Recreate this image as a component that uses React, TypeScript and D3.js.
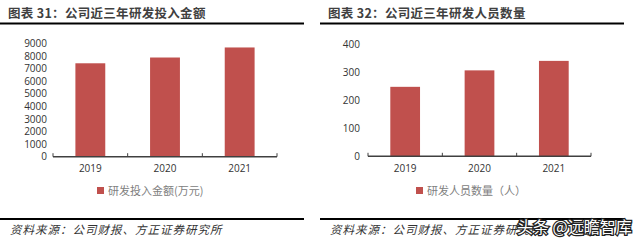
import * as d3 from 'd3';

const years = ['2019', '2020', '2021'];
const rdSpend = [7440, 7900, 8700];
const rdStaff = [249, 308, 342];
const spendTicks = [0, 1000, 2000, 3000, 4000, 5000, 6000, 7000, 8000, 9000];
const staffTicks = [0, 100, 200, 300, 400];

const BAR = '#c0504d';
const CJK = '"Noto Sans CJK SC", "Noto Sans", sans-serif';
const NUM = '"Open Sans", "Liberation Sans", sans-serif';

interface PanelProps {
  x0: number;
  title: string;
  legend: string;
  values: number[];
  ticks: number[];
  yTop: number;
  yZero: number;
  axisL: number;
  axisR: number;
  labelX: number;
  legendX: number;
}

const Panel = ({ x0, title, legend, values, ticks, yTop, yZero, axisL, axisR, labelX, legendX }: PanelProps) => {
  const x = d3.scaleBand().domain(years).range([axisL, axisR]).paddingInner(0.6).paddingOuter(0.3);
  const y = d3.scaleLinear().domain([0, d3.max(ticks) || 0]).range([yZero, yTop]);
  const bounds = d3.range(years.length + 1).map(i => axisL + (i * (axisR - axisL)) / years.length);

  return (
    <g transform={`translate(${x0},0)`}>
      <text x={8} y={18} fontFamily={CJK} fontSize={12.5} fontWeight={700} fill="#404040" letterSpacing={0.3}>
        {title}
      </text>
      <line x1={0} x2={304} y1={23.5} y2={23.5} stroke="#000" strokeWidth={2} />

      {ticks.map(t => (
        <text key={t} x={labelX} y={y(t)} dy="0.35em" textAnchor="end" fontFamily={NUM} fontSize={10} fill="#333">
          {t}
        </text>
      ))}

      {values.map((v, i) => (
        <rect key={years[i]} x={x(years[i])} y={y(v)} width={x.bandwidth()} height={yZero - y(v)} fill={BAR} />
      ))}

      <line x1={axisL} x2={axisR} y1={yZero} y2={yZero} stroke="#404040" strokeWidth={1.5} />
      {bounds.map((b, i) => (
        <line key={i} x1={b} x2={b} y1={yZero - 3.5} y2={yZero} stroke="#404040" strokeWidth={1} />
      ))}

      {years.map(yr => (
        <text key={yr} x={(x(yr) || 0) + x.bandwidth() / 2} y={172} textAnchor="middle" fontFamily={NUM} fontSize={10} fill="#333">
          {yr}
        </text>
      ))}

      <rect x={legendX} y={187} width={7} height={7} fill={BAR} />
      <text x={legendX + 11} y={194.5} fontFamily={CJK} fontSize={11} fill="#808080">
        {legend}
      </text>

      <line x1={0} x2={304} y1={219} y2={219} stroke="#000" strokeWidth={2} />
      <text x={10} y={234} fontFamily={CJK} fontSize={11.5} fontStyle="italic" fill="#333" letterSpacing={1}>
        资料来源：公司财报、方正证券研究所
      </text>
    </g>
  );
};

const App = () => {
  return (
    <div style={{ position: 'absolute', left: 0, top: 0 }}>
      <svg width={640} height={242} style={{ display: 'block', background: '#fff' }}>
        <Panel
          x0={0}
          title="图表 31：公司近三年研发投入金额"
          legend="研发投入金额(万元)"
          values={rdSpend}
          ticks={spendTicks}
          yTop={43.7}
          yZero={156.7}
          axisL={53}
          axisR={277}
          labelX={47}
          legendX={97}
        />
        <Panel
          x0={320}
          title="图表 32：公司近三年研发人员数量"
          legend="研发人员数量（人）"
          values={rdStaff}
          ticks={staffTicks}
          yTop={44.7}
          yZero={156.3}
          axisL={48}
          axisR={271}
          labelX={40}
          legendX={96}
        />
        <text x={517} y={233} fontFamily={CJK} fontSize={16} fill="#fff" stroke="#222" strokeWidth={2.5} paintOrder="stroke">
          头条 @远瞻智库
        </text>
      </svg>
    </div>
  );
};

export default App;
